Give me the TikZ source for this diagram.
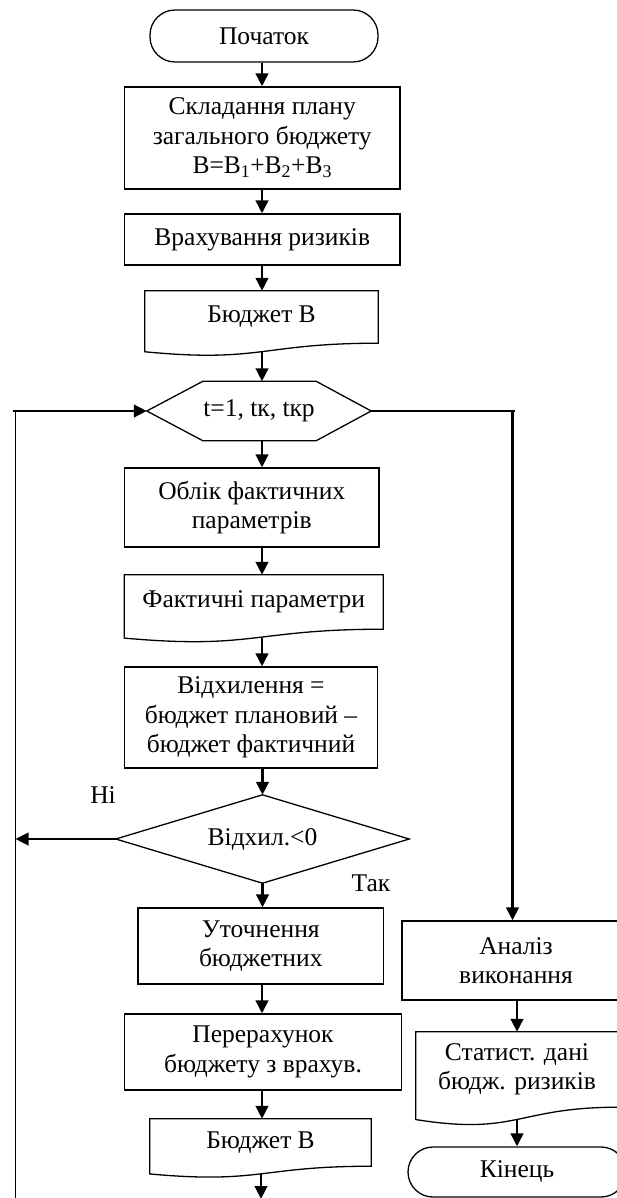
\documentclass[tikz,border=0pt]{standalone}
\usepackage{fontspec}
\setmainfont{Liberation Serif}
\usetikzlibrary{arrows.meta,calc}
\tikzset{
  txt/.style={align=center, inner sep=0pt, font=\fontsize{25.5}{29.5}\selectfont},
  box/.style={txt, draw, line width=1.3pt},
  term/.style={box, rounded corners=25pt},
  plain/.style={txt},
  outl/.style={line width=1.3pt},
  arr/.style={line width=2.6pt, -{Triangle[length=13pt,width=12.5pt]}},
  loopv/.style={line width=1.4pt},
  thinln/.style={line width=1.3pt},
}
\newcommand\docout[2]{\draw[outl] (#1.south east) -- (#1.north east) -- (#1.north west) -- ($(#1.south west)+(0,0.1646*#2)$) .. controls ($(#1.south)+(0,0.381*#2)$) and (#1.south) .. cycle;}
\begin{document}
\begin{tikzpicture}[x=1pt,y=-1pt]
\useasboundingbox (0,0) rectangle (617,1198);
\clip (0,0) rectangle (617,1198);
\coordinate (ax) at (262,0);
\coordinate (rx) at (517,0);
\coordinate (rj) at (512.5,0);
\coordinate (lx) at (15.5,0);

% main column
\node[term, minimum width=228pt, minimum height=52pt] (start) at (264,36) {Початок};
\node[box, minimum width=275.5pt, minimum height=102pt] (b1) at (262.25,138) {Складання плану\\загального бюджету\\B=B\textsubscript{1}+B\textsubscript{2}+B\textsubscript{3}};
\node[box, minimum width=275.5pt, minimum height=51pt] (b2) at (262.25,239.5) {Врахування ризиків};
\node[plain, minimum width=233pt, minimum height=52pt] (d1) at (261.5,317) {Бюджет В};
\docout{d1}{52}
\node[plain, minimum width=224pt, minimum height=59pt] (hex) at (259,411) {t=1, tк, tкр};
\draw[outl] (hex.west) -- ($(hex.north west)+(56,0)$) -- ($(hex.north east)+(-55,0)$) -- (hex.east) -- ($(hex.south east)+(-55,0)$) -- ($(hex.south west)+(56,0)$) -- cycle;
\node[box, minimum width=254.5pt, minimum height=79pt] (b3) at (251.75,507.5) {Облік фактичних\\параметрів};
\node[plain, minimum width=258.5pt, minimum height=54pt] (d2) at (253.75,602) {Фактичні параметри};
\docout{d2}{54}
\node[box, minimum width=253pt, minimum height=101pt] (b4) at (251,717.5) {Відхилення =\\бюджет плановий –\\бюджет фактичний};
\node[plain, minimum width=293pt, minimum height=88pt] (dec) at (262.5,839) {Відхил.<0};
\draw[outl] (dec.north) -- (dec.east) -- (dec.south) -- (dec.west) -- cycle;
\node[plain] (ni) at (103,795) {Ні};
\node[plain] (tak) at (371,883) {Так};
\node[box, minimum width=245.5pt, minimum height=76pt] (b5) at (260.75,946) {Уточнення\\бюджетних};
\node[box, minimum width=277pt, minimum height=76pt] (b6) at (263,1052) {Перерахунок\\бюджету з врахув.};
\node[plain, minimum width=221pt, minimum height=47pt] (d3) at (260.5,1142.5) {Бюджет В};
\docout{d3}{47}

% right column
\node[box, minimum width=228pt, minimum height=79pt] (an) at (516,960.5) {Аналіз\\виконання};
\node[plain, minimum width=202pt, minimum height=75pt] (d4) at (517,1069.5) {Статист. дані\\бюдж. ризиків};
\docout{d4}{75}
\node[term, minimum width=218pt, minimum height=50pt] (end) at (517,1172) {Кінець};

% doc bottom points
\coordinate (d1b) at ($(d1.south -| ax)+(0,0.1636*52)$);
\coordinate (d2b) at ($(d2.south -| ax)+(0,0.1636*54)$);
\coordinate (d3b) at ($(d3.south -| ax)+(0,0.1636*47)$);
\coordinate (d4b) at ($(d4.south -| rx)+(0,0.1636*75)$);
\coordinate (botend) at (261,1199);
\coordinate (lbot) at (15.5,1210);

% connectors main column
\draw[arr] (start.south -| ax) -- (b1.north -| ax);
\draw[arr] (b1.south -| ax) -- (b2.north -| ax);
\draw[arr] (b2.south -| ax) -- (d1.north -| ax);
\draw[arr] (d1b) -- (hex.north -| ax);
\draw[arr] (hex.south -| ax) -- (b3.north -| ax);
\draw[arr] (b3.south -| ax) -- (d2.north -| ax);
\draw[arr] (d2b) -- (b4.north -| ax);
\draw[arr] (b4.south -| dec.north) -- (dec.north);
\draw[arr] (dec.south) -- (b5.north -| dec.south);
\draw[arr] (b5.south -| ax) -- (b6.north -| ax);
\draw[arr] (b6.south -| ax) -- (d3.north -| ax);
\draw[arr] (d3b -| botend) -- (botend);

% loop
\draw[loopv] (lbot) -- (hex.west -| lx);
\draw[arr] ($(hex.west -| lx)+(-3,0)$) -- (hex.west);
\draw[arr] (dec.west) -- (dec.west -| lx);

% right branch
\draw[thinln] (hex.east) -- ($(hex.east -| rj)+(2,0)$);
\draw[arr, line width=2.8pt] ($(hex.east -| rj)+(0,-1.5)$) -- (an.north -| rj);
\draw[arr] (an.south -| rx) -- (d4.north -| rx);
\draw[arr] (d4b) -- (end.north -| rx);
\end{tikzpicture}
\end{document}
